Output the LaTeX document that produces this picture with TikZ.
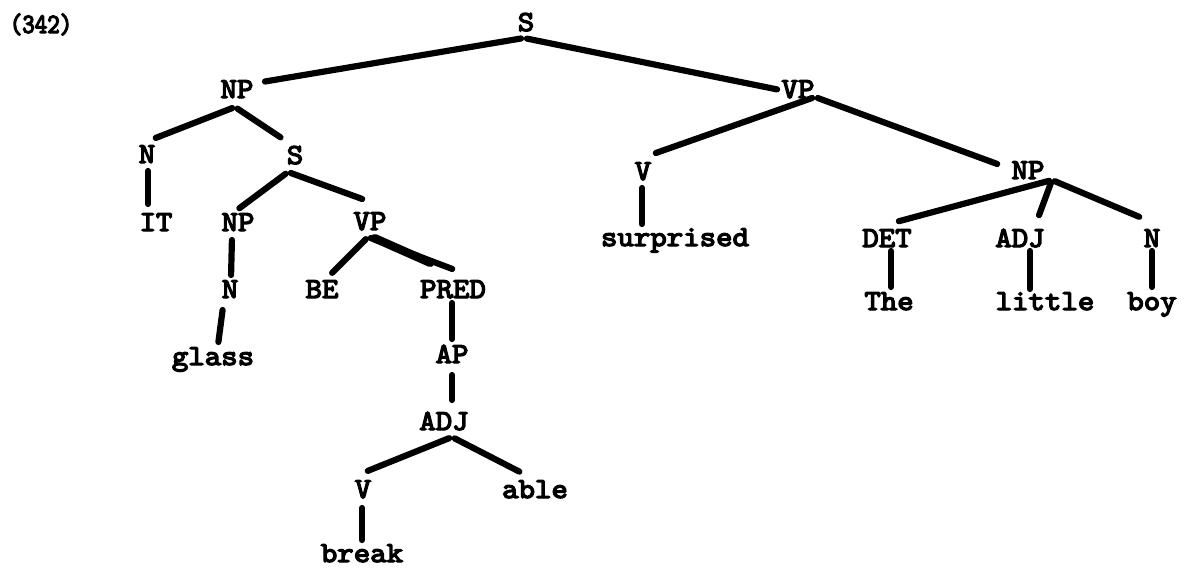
\documentclass[tikz,border=0pt]{standalone}
\usepackage{fontspec}
\newfontfamily\tw[FakeBold=4.5,FakeStretch=1.08]{lmmono10-regular.otf}
\newfontfamily\twnum[FakeBold=4.5,FakeStretch=0.85]{lmmono10-regular.otf}
\begin{document}
\begin{tikzpicture}[x=1pt,y=-1pt,
  lab/.style={font=\tw\fontsize{29}{32}\selectfont, text height=18pt, text depth=0pt, inner sep=0pt, anchor=center},
  br/.style={line width=6.2pt, line cap=round, shorten <=3pt, shorten >=3pt}]
\useasboundingbox (0,0) rectangle (1184,568);
\node[lab, font=\twnum\fontsize{28}{30}\selectfont] (num) at (41,24) {(342)};
\node[lab] (S1) at (526,22) {S};
\node[lab] (NP1) at (237,89) {NP};
\node[lab] (VP1) at (798,89) {VP};
\node[lab] (N1) at (147,154) {N};
\node[lab] (S2) at (295,155) {S};
\node[lab] (V1) at (643,171) {V};
\node[lab] (NP2) at (1028,170) {NP};
\node[lab] (IT) at (156,222) {IT};
\node[lab] (NP3) at (238,222) {NP};
\node[lab] (VP2) at (370,221) {VP};
\node[lab] (surprised) at (675,237) {surprised};
\node[lab] (DET) at (887,238) {DET};
\node[lab] (ADJ1) at (1020,238) {ADJ};
\node[lab] (N2) at (1152,238) {N};
\node[lab] (N3) at (230,289) {N};
\node[lab] (BE) at (322,289) {BE};
\node[lab] (PRED) at (453,289) {PRED};
\node[lab] (The) at (889,301) {The};
\node[lab] (little) at (1045,301) {little};
\node[lab] (boy) at (1152,301) {boy};
\node[lab] (glass) at (213,356) {glass};
\node[lab] (AP) at (452,354) {AP};
\node[lab] (ADJ2) at (444,421) {ADJ};
\node[lab] (V2) at (363,489) {V};
\node[lab] (able) at (535,489) {able};
\node[lab] (break) at (362,553) {break};
% connectors
\draw[br] ([shift={(-2,16)}]S1.center) -- ([shift={(25,-7)}]NP1.center);
\draw[br] ([shift={(-2,16)}]S1.center) -- ([shift={(-18,1)}]VP1.center);
\draw[br] ([shift={(-2,18)}]NP1.center) -- ([shift={(6,-15)}]N1.center);
\draw[br] ([shift={(-2,18)}]NP1.center) -- ([shift={(-12,-16)}]S2.center);
\draw[br] ([shift={(1,14)}]N1.center) -- ([shift={(-8,-15)}]IT.center);
\draw[br] ([shift={(-7,17)}]S2.center) -- ([shift={(-1,-12)}]NP3.center);
\draw[br] ([shift={(-7,17)}]S2.center) -- ([shift={(-5,-21)}]VP2.center);
\draw[br] ([shift={(-6,15)}]NP3.center) -- ([shift={(1,-11)}]N3.center);
\draw[br] ([shift={(-7,18)}]N3.center) -- ([shift={(5,-11)}]glass.center);
\draw[br] ([shift={(-2,16)}]VP2.center) -- ([shift={(8,-14)}]BE.center);
\draw[br] ([shift={(-2,16)}]VP2.center) -- ([shift={(2,-19)}]PRED.center);
\draw[br, line width=8.5pt] ([shift={(2,16)}]VP2.center) -- ([shift={(-20,-25)}]PRED.center);
\draw[br] ([shift={(-1,11)}]PRED.center) -- ([shift={(0,-12)}]AP.center);
\draw[br] ([shift={(0,18)}]AP.center) -- ([shift={(8,-18)}]ADJ2.center);
\draw[br] ([shift={(8,16)}]ADJ2.center) -- ([shift={(2,-17)}]V2.center);
\draw[br] ([shift={(8,16)}]ADJ2.center) -- ([shift={(-13,-16)}]able.center);
\draw[br] ([shift={(-1,16)}]V2.center) -- ([shift={(0,-10)}]break.center);
\draw[br] ([shift={(17,8)}]VP1.center) -- ([shift={(10,-17)}]V1.center);
\draw[br] ([shift={(17,8)}]VP1.center) -- ([shift={(-28,-5)}]NP2.center);
\draw[br] ([shift={(-1,14)}]V1.center) -- ([shift={(-33,-10)}]surprised.center);
\draw[br] ([shift={(24,10)}]NP2.center) -- ([shift={(9,-16)}]DET.center);
\draw[br] ([shift={(24,10)}]NP2.center) -- ([shift={(18,-20)}]ADJ1.center);
\draw[br] ([shift={(24,10)}]NP2.center) -- ([shift={(-10,-20)}]N2.center);
\draw[br] ([shift={(4,10)}]DET.center) -- ([shift={(2,-11)}]The.center);
\draw[br] ([shift={(10,10)}]ADJ1.center) -- ([shift={(-15,-9)}]little.center);
\draw[br] ([shift={(0,10)}]N2.center) -- ([shift={(0,-11)}]boy.center);
\end{tikzpicture}
\end{document}
